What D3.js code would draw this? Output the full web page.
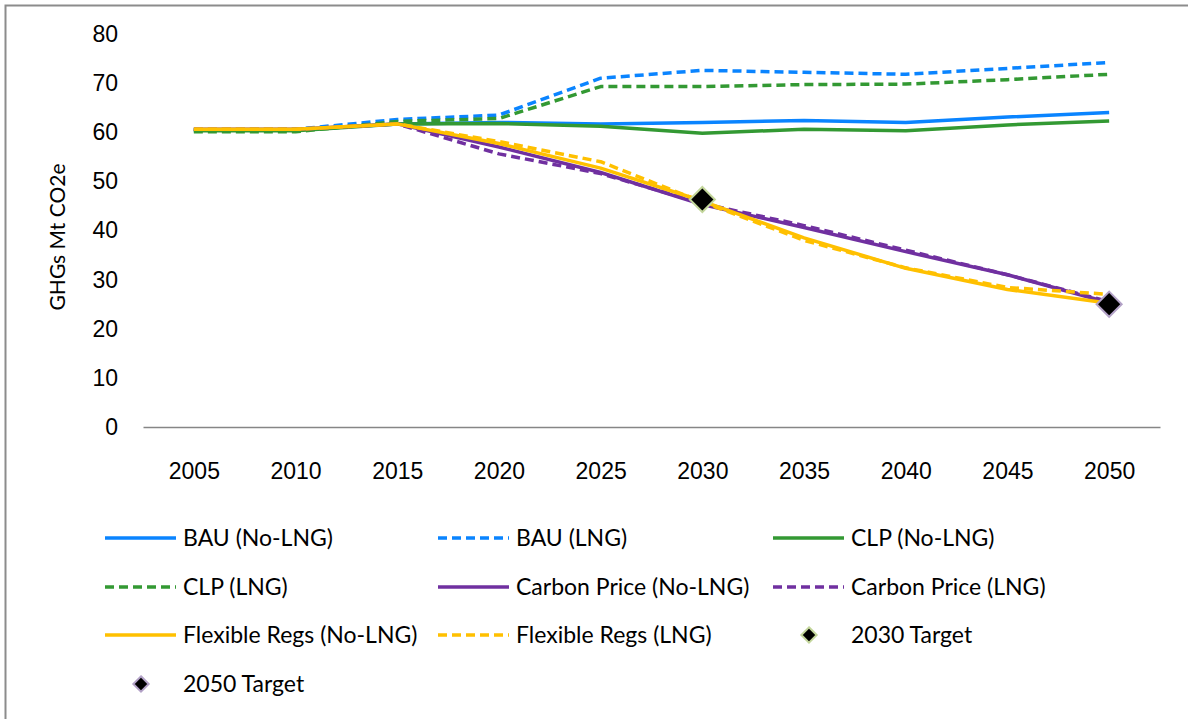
<!DOCTYPE html>
<html>
<head>
<meta charset="utf-8">
<script src="https://cdn.jsdelivr.net/npm/d3@7"></script>
<style>
  body { margin: 0; background: #fff; }
  svg { display: block; font-family: Lato, "Open Sans", sans-serif; }
  .axis text { font-size: 23px; fill: #000; }
</style>
</head>
<body>
<svg width="1188" height="719"></svg>
<script>
// values
var years = ["2005", "2010", "2015", "2020", "2025", "2030", "2035", "2040", "2045", "2050"];
var yTicks = [0, 10, 20, 30, 40, 50, 60, 70, 80];

var bauNoLng  = [60.5, 60.5, 61.7, 62.0, 61.7, 62.0, 62.4, 62.0, 63.1, 64.0];
var bauLng    = [60.5, 60.6, 62.6, 63.5, 71.0, 72.6, 72.2, 71.8, 73.0, 74.2];
var clpNoLng  = [60.3, 60.3, 61.7, 61.8, 61.2, 59.8, 60.6, 60.3, 61.5, 62.3];
var clpLng    = [60.1, 60.1, 62.2, 62.8, 69.3, 69.3, 69.7, 69.8, 70.7, 71.8];
var cpNoLng   = [60.6, 60.6, 61.7, 57.0, 51.8, 45.3, 40.6, 35.7, 31.0, 25.3];
var cpLng     = [60.6, 60.6, 61.7, 55.6, 51.6, 45.5, 41.0, 36.0, 31.0, 25.5];
var flexNoLng = [60.6, 60.6, 61.7, 57.7, 52.7, 46.0, 38.5, 32.3, 28.0, 25.2];
var flexLng   = [60.6, 60.6, 61.7, 58.1, 54.0, 45.8, 38.0, 32.4, 28.4, 27.0];

var target2030 = [{year: "2030", value: 46.3}];
var target2050 = [{year: "2050", value: 25.0}];

var lineNames = ["BAU (No-LNG)", "BAU (LNG)", "CLP (No-LNG)", "CLP (LNG)",
                 "Carbon Price (No-LNG)", "Carbon Price (LNG)",
                 "Flexible Regs (No-LNG)", "Flexible Regs (LNG)"];
var lineValues = [bauNoLng, bauLng, clpNoLng, clpLng, cpNoLng, cpLng, flexNoLng, flexLng];
var lineColors = ["#0A84FF", "#0A84FF", "#339933", "#339933", "#7030A0", "#7030A0", "#FFC000", "#FFC000"];
var lineDashed = [false, true, false, true, false, true, false, true];

var series = lineNames.map(function(n, i) {
  return {
    id: n,
    color: lineColors[i],
    dashed: lineDashed[i],
    values: years.map(function(yr, j) { return {year: yr, value: lineValues[i][j]}; })
  };
});

var svg = d3.select("svg");

// outer frame (only top/left edges are visible in the picture)
svg.append("rect")
  .attr("x", 5.5).attr("y", 5.5)
  .attr("width", 1400).attr("height", 900)
  .attr("fill", "none")
  .attr("stroke", "#8c8c8c")
  .attr("stroke-width", 2);

var x = d3.scalePoint().domain(years).range([143, 1160]).padding(0.5),
    y = d3.scaleLinear().domain([0, 80]).range([427, 34]);

var xAxis = svg.append("g")
  .attr("class", "axis")
  .attr("transform", "translate(0,427)")
  .call(d3.axisBottom(x).tickSize(0).tickPadding(36));
xAxis.select(".domain").attr("stroke", "#868686").attr("stroke-width", 1.5);

var yAxis = svg.append("g")
  .attr("class", "axis")
  .attr("transform", "translate(143,0)")
  .call(d3.axisLeft(y).tickValues(yTicks).tickSize(0).tickPadding(25));
yAxis.select(".domain").remove();

svg.append("text")
  .attr("transform", "translate(65,237) rotate(-90)")
  .attr("text-anchor", "middle")
  .style("font-size", "21px")
  .text("GHGs Mt CO2e");

var line = d3.line()
  .x(function(d) { return x(d.year); })
  .y(function(d) { return y(d.value); });

svg.selectAll(".series")
  .data(series)
  .enter().append("path")
    .attr("class", "series")
    .attr("d", function(d) { return line(d.values); })
    .attr("fill", "none")
    .attr("stroke", function(d) { return d.color; })
    .attr("stroke-width", 3.5)
    .attr("stroke-linejoin", "round")
    .attr("stroke-dasharray", function(d) { return d.dashed ? "9,5" : null; });

var diamond = d3.symbol().type(d3.symbolDiamond2);

function drawTarget(data, stroke, size) {
  svg.selectAll(null)
    .data(data)
    .enter().append("path")
      .attr("d", diamond.size(size)())
      .attr("transform", function(d) { return "translate(" + x(d.year) + "," + y(d.value) + ")"; })
      .attr("fill", "#000")
      .attr("stroke", stroke)
      .attr("stroke-width", 2);
}
drawTarget(target2030, "#C3D69B", 400);
drawTarget(target2050, "#B3A2C7", 400);

// legend: 3 columns
var legendCols = [105, 438, 773],
    legendRows = [538, 587, 635, 684];

var legendItems = series.map(function(s) {
  return {name: s.id, color: s.color, dashed: s.dashed, marker: null};
});
legendItems.push({name: "2030 Target", marker: "#C3D69B"});
legendItems.push({name: "2050 Target", marker: "#B3A2C7"});

var legend = svg.selectAll(".legend")
  .data(legendItems)
  .enter().append("g")
    .attr("class", "legend")
    .attr("transform", function(d, i) {
      return "translate(" + legendCols[i % 3] + "," + legendRows[Math.floor(i / 3)] + ")";
    });

legend.filter(function(d) { return !d.marker; })
  .append("line")
    .attr("x1", 0).attr("x2", 71)
    .attr("y1", 0).attr("y2", 0)
    .attr("stroke", function(d) { return d.color; })
    .attr("stroke-width", 3.5)
    .attr("stroke-dasharray", function(d) { return d.dashed ? "9,5" : null; });

legend.filter(function(d) { return d.marker; })
  .append("path")
    .attr("d", diamond.size(150)())
    .attr("transform", "translate(36,0)")
    .attr("fill", "#000")
    .attr("stroke", function(d) { return d.marker; })
    .attr("stroke-width", 2);

legend.append("text")
  .attr("x", 78)
  .attr("dy", "0.35em")
  .style("font-size", "23px")
  .text(function(d) { return d.name; });
</script>
</body>
</html>
